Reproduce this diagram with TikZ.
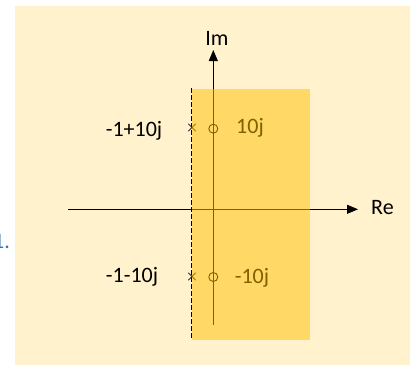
\documentclass[tikz,border=0pt]{standalone}
\usepackage{fontspec}
\setmainfont{Carlito}
\usetikzlibrary{arrows.meta}
\definecolor{bgyellow}{HTML}{FFF2CC}
\definecolor{gold}{HTML}{FFC000}
\definecolor{numblue}{HTML}{2E75B6}
\begin{document}
\begin{tikzpicture}[x=1pt,y=-1pt,
  axis/.style={line width=0.8pt,-{Triangle[length=11pt,width=9pt]}},
  lbl/.style={font=\fontsize{22}{24}\selectfont,inner sep=0pt},
  zero/.style={circle,draw,line width=0.9pt,minimum size=9pt,inner sep=0pt},
  pole/.style={inner sep=0pt,minimum size=7pt}]
\useasboundingbox (0,0) rectangle (410,365);
\fill[white] (0,0) rectangle (410,365);
\fill[bgyellow] (15,6) rectangle (410,365);
\node[lbl,text=numblue,anchor=base east] (num) at (10,248) {1.};
% axes
\coordinate (reL) at (68,209.3);
\coordinate (reR) at (358,209.3);
\coordinate (imB) at (213.3,325);
\coordinate (imT) at (213.3,50);
\draw[axis] (reL) -- (reR);
\draw[axis] (imB) -- (imT);
\node[lbl,anchor=west] (re) at (371,208) {Re};
\node[lbl,anchor=south] (im) at (217,46) {Im};
% dashed line
\coordinate (dT) at (191.7,88);
\coordinate (dB) at (191.7,340);
\draw[line width=0.7pt,dash pattern=on 4.5pt off 2.5pt] (dT) -- (dB);
% zeros
\node[zero] (z1) at (213.3,128.7) {};
\node[zero] (z2) at (213.3,277) {};
% poles
\node[pole] (p1) at (192,127.5) {};
\node[pole] (p2) at (192,276.5) {};
\foreach \p in {p1,p2}{
  \draw[line width=0.9pt,black!80] (\p.north west) -- (\p.south east)
    (\p.north east) -- (\p.south west);
}
% labels
\node[lbl] (l1) at (134,131) {-1+10j};
\node[lbl] (l2) at (132,277) {-1-10j};
\node[lbl] (l3) at (250,128) {10j};
\node[lbl] (l4) at (252,278) {-10j};
% overlay region
\fill[gold,opacity=0.5] (191.7,89.3) rectangle (310,340);
\end{tikzpicture}
\end{document}
